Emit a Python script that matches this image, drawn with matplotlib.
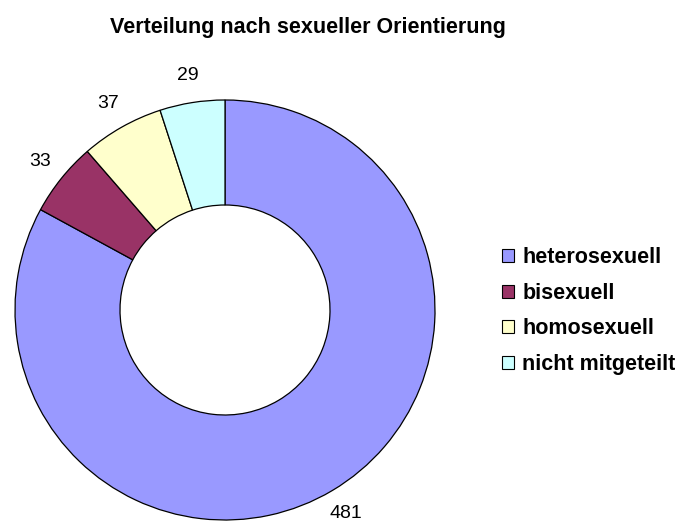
import matplotlib
matplotlib.use("Agg")
import matplotlib.pyplot as plt

categories = ["heterosexuell", "bisexuell", "homosexuell", "nicht mitgeteilt"]
values = [481, 33, 37, 29]
colors = ["#9999FF", "#993366", "#FFFFCC", "#CCFFFF"]

plt.rcParams['font.family'] = ['Liberation Sans', 'DejaVu Sans']

fig = plt.figure(figsize=(6.97, 5.25), dpi=100)
ax = fig.add_axes([15/697, 5/525, 420/697, 420/525])
wedges, texts = ax.pie(values, colors=colors, startangle=90, counterclock=False,
                       labels=[str(v) for v in values], labeldistance=1.13,
                       wedgeprops=dict(width=0.5, edgecolor="black", linewidth=0.9),
                       textprops=dict(fontsize=14, color="black"))
for t in texts:
    t.set_ha("center")
    t.set_va("center")
ax.set_xlim(-1, 1)
ax.set_ylim(-1, 1)
ax.set_aspect("equal")

fig.text(308/697, 1 - 27/525, "Verteilung nach sexueller Orientierung",
         ha="center", va="center", fontsize=15.5, fontweight="bold")

leg = fig.legend(wedges, categories, loc="center left",
                 bbox_to_anchor=(502/697, 1 - 311/525), frameon=False,
                 borderpad=0, borderaxespad=0,
                 handlelength=0.55, handleheight=0.55, handletextpad=0.4,
                 labelspacing=0.68, prop=dict(size=15.5, weight="bold"))
for h in leg.legend_handles:
    h.set_edgecolor("black")
    h.set_linewidth(0.8)

fig.savefig("out.png", dpi=100)
